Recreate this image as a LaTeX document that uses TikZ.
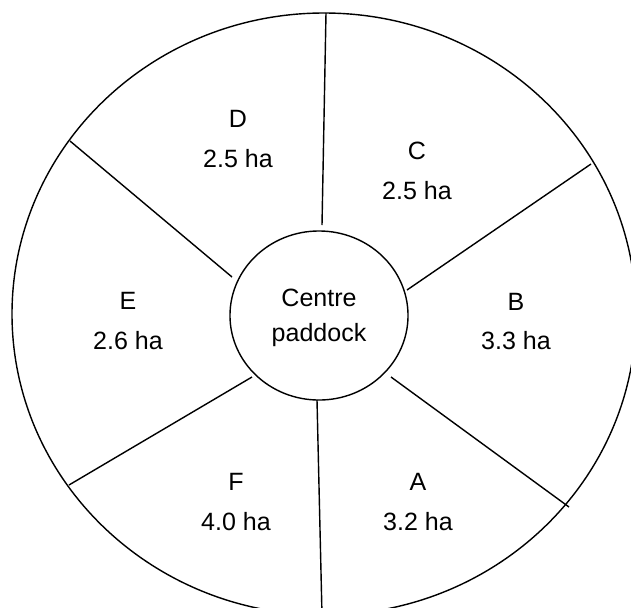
\documentclass[tikz,border=0pt]{standalone}
\usepackage{fontspec}
\setmainfont{Liberation Sans}
\usepackage{tikz}
\usetikzlibrary{shapes.geometric, positioning}

\tikzset{
  fence/.style={line width=1pt},
  paddock/.style={font=\fontsize{17.8}{28}\selectfont, align=center, inner sep=0pt},
}

\begin{document}
\begin{tikzpicture}[x=0.025cm, y=-0.025cm]
\useasboundingbox (0,0) rectangle (631,607);
\clip (0,0) rectangle (631,607);
% Outer boundary
\draw[fence] (324,314) ellipse [x radius=312, y radius=301];
% Centre paddock
\node[fence, draw, ellipse, minimum width=4.45cm, minimum height=4.225cm, inner sep=0pt,
      font=\fontsize{17.8}{24.9}\selectfont, align=center, text depth=0pt] (centre) at (319,315.5) {Centre\\paddock};
% Fence lines
\coordinate (cd-in) at (322,225); \coordinate (cd-out) at (326,13);
\coordinate (bc-in) at (407,290); \coordinate (bc-out) at (591,164);
\coordinate (ab-in) at (391,377); \coordinate (ab-out) at (569,507);
\coordinate (af-in) at (317,400); \coordinate (af-out) at (322,615);
\coordinate (ef-in) at (252,377); \coordinate (ef-out) at (69,485);
\coordinate (de-in) at (232,277); \coordinate (de-out) at (70,141);
\draw[fence] (cd-in) -- (cd-out);
\draw[fence] (bc-in) -- (bc-out);
\draw[fence] (ab-in) -- (ab-out);
\draw[fence] (af-in) -- (af-out);
\draw[fence] (ef-in) -- (ef-out);
\draw[fence] (de-in) -- (de-out);
% Paddock labels
\node[paddock] (pd) at (238,139) {D\\2.5 ha};
\node[paddock] (pc) at (417,171) {C\\2.5 ha};
\node[paddock] (pb) at (516,321.5) {B\\3.3 ha};
\node[paddock] (pa) at (418,502) {A\\3.2 ha};
\node[paddock] (pf) at (236,502) {F\\4.0 ha};
\node[paddock] (pe) at (128,321) {E\\2.6 ha};
\end{tikzpicture}
\end{document}
